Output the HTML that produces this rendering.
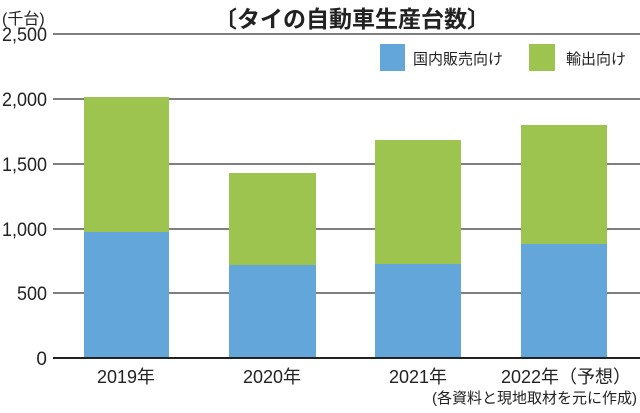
<!DOCTYPE html>
<html><head><meta charset="utf-8"><style>
body{margin:0;background:#fff;}
svg text{font-family:"Liberation Sans","Noto Sans CJK JP",sans-serif;fill:#222;}
</style></head><body>
<svg width="640" height="408" viewBox="0 0 640 408" xmlns="http://www.w3.org/2000/svg">
<rect width="640" height="408" fill="#fff"/>
<text x="2" y="24" font-size="16">(千台)</text>
<text x="352" y="27" font-size="23" font-weight="bold" text-anchor="middle">〔タイの自動車生産台数〕</text>
<g stroke="#333" stroke-width="1.2">
<line x1="53" y1="34" x2="640" y2="34"/>
<line x1="53" y1="99" x2="640" y2="99"/>
<line x1="53" y1="164" x2="640" y2="164"/>
<line x1="53" y1="229" x2="640" y2="229"/>
<line x1="53" y1="293" x2="640" y2="293"/>
</g>
<g font-size="19" text-anchor="end">
<text x="47" y="41" textLength="45" lengthAdjust="spacingAndGlyphs">2,500</text>
<text x="47" y="106" textLength="45" lengthAdjust="spacingAndGlyphs">2,000</text>
<text x="47" y="171" textLength="45" lengthAdjust="spacingAndGlyphs">1,500</text>
<text x="47" y="236" textLength="45" lengthAdjust="spacingAndGlyphs">1,000</text>
<text x="47" y="300" textLength="30" lengthAdjust="spacingAndGlyphs">500</text>
<text x="47" y="365">0</text>
</g>
<rect x="380" y="44" width="25" height="27" fill="#62a6da"/>
<text x="413" y="64" font-size="15">国内販売向け</text>
<rect x="529" y="44" width="26" height="27" fill="#9dc44f"/>
<text x="566" y="64" font-size="15">輸出向け</text>
<g>
<rect x="84" y="97" width="85" height="135" fill="#9dc44f"/>
<rect x="84" y="232" width="85" height="126" fill="#62a6da"/>
<rect x="229" y="173" width="87" height="92" fill="#9dc44f"/>
<rect x="229" y="265" width="87" height="93" fill="#62a6da"/>
<rect x="375" y="140" width="86" height="124" fill="#9dc44f"/>
<rect x="375" y="264" width="86" height="94" fill="#62a6da"/>
<rect x="521" y="125" width="86" height="119" fill="#9dc44f"/>
<rect x="521" y="244" width="86" height="114" fill="#62a6da"/>
</g>
<line x1="53" y1="358" x2="640" y2="358" stroke="#222" stroke-width="2"/>
<g font-size="18" text-anchor="middle">
<text x="126" y="383">2019年</text>
<text x="272" y="383">2020年</text>
<text x="418" y="383">2021年</text>
<text x="566" y="383">2022年（予想）</text>
</g>
<text x="637" y="403" font-size="15" text-anchor="end">(各資料と現地取材を元に作成)</text>
</svg>
</body></html>
